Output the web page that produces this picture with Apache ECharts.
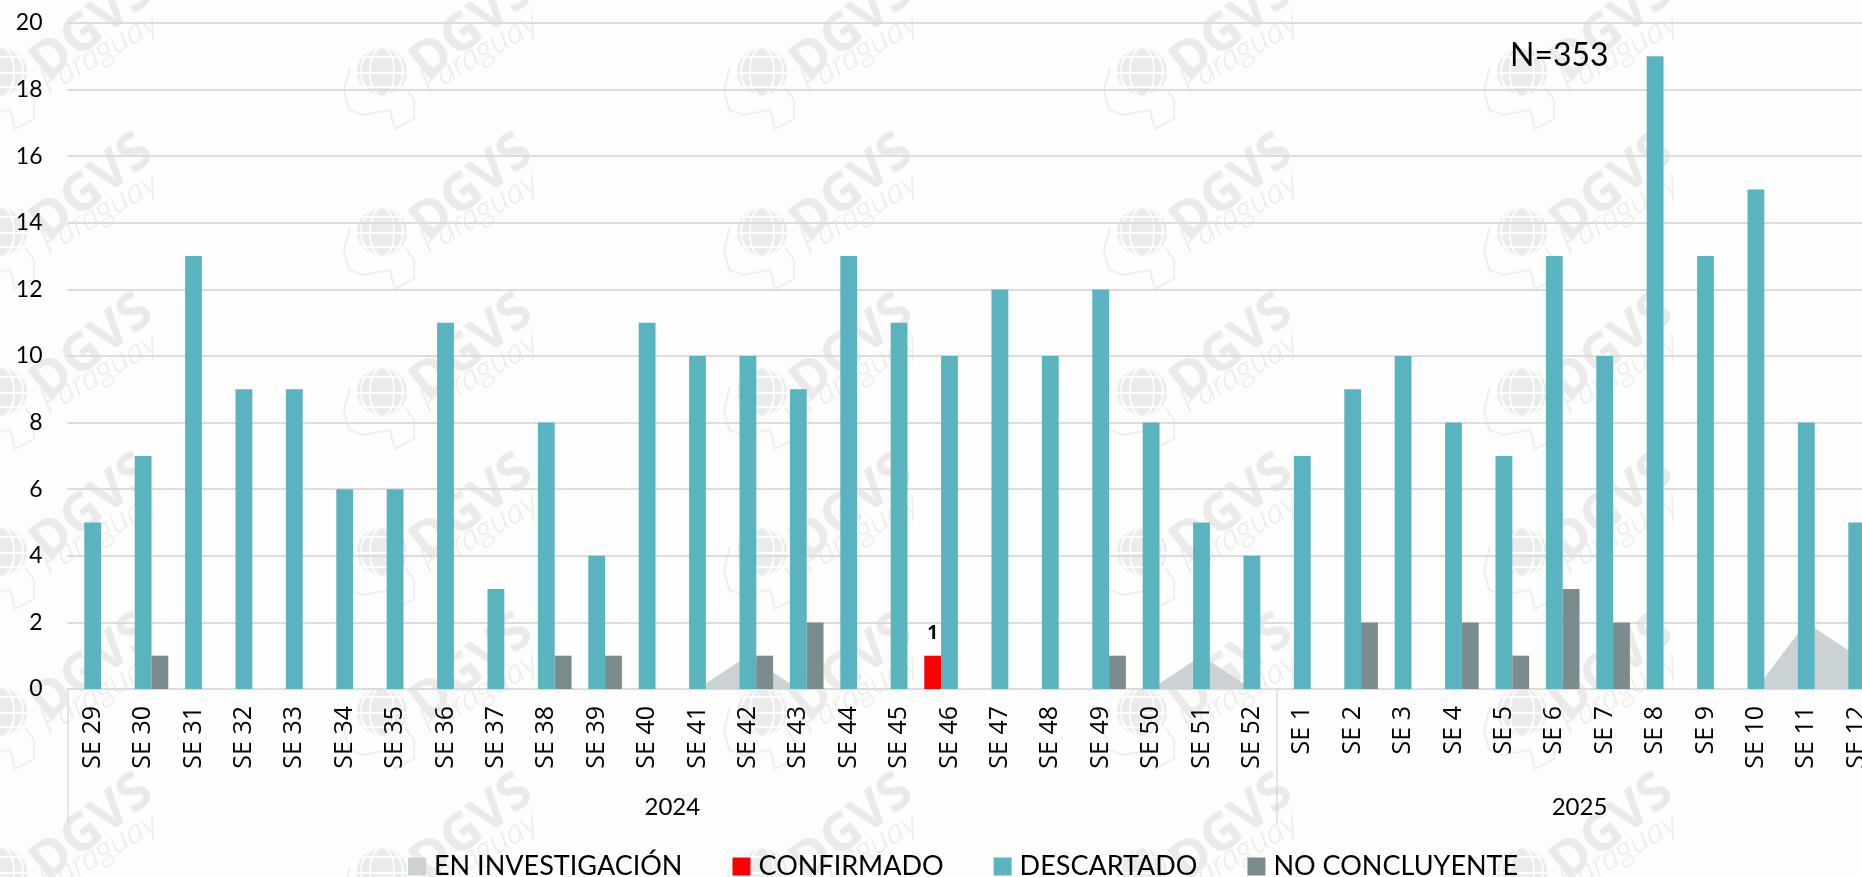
<!DOCTYPE html>
<html>
<head>
<meta charset="utf-8">
<style>html,body{margin:0;padding:0;background:#fdfdfd;overflow:hidden}#c{width:1862px;height:877px}</style>
<script src="https://cdn.jsdelivr.net/npm/echarts@6/dist/echarts.min.js"></script>
</head>
<body>
<div id="c"></div>
<script>
const weeks = ['SE 29','SE 30','SE 31','SE 32','SE 33','SE 34','SE 35','SE 36','SE 37','SE 38','SE 39','SE 40','SE 41','SE 42','SE 43','SE 44','SE 45','SE 46','SE 47','SE 48','SE 49','SE 50','SE 51','SE 52','SE 1','SE 2','SE 3','SE 4','SE 5','SE 6','SE 7','SE 8','SE 9','SE 10','SE 11','SE 12'];
const years = ['2024','2025'];
const weeksPerYear = [24,12];
const enInvestigacion = [0,0,0,0,0,0,0,0,0,0,0,0,0,1,0,0,0,0,0,0,0,0,1,0,0,0,0,0,0,0,0,0,0,0,2,1];
const confirmado = [null,null,null,null,null,null,null,null,null,null,null,null,null,null,null,null,null,1,null,null,null,null,null,null,null,null,null,null,null,null,null,null,null,null,null,null];
const descartado = [5,7,13,9,9,6,6,11,3,8,4,11,10,10,9,13,11,10,12,10,12,8,5,4,7,9,10,8,7,13,10,19,13,15,8,5];
const noConcluyente = [null,1,null,null,null,null,null,null,null,1,1,null,null,1,2,null,null,null,null,null,1,null,null,null,null,2,null,2,1,3,2,null,null,null,null,null];

const FONT = 'Lato';
const LABEL_FONT = 'Open Sans';
const TEXT_COLOR = '#000';
const GRID_COLOR = '#dcdcdc';
const mapOutline = [[-32,-5],[-38,18],[-33,38],[-18,43],[8,38],[13,57],[32,47],[32,28],[23,15]];

function watermark(cx, cy) {
  const z = -10;
  const white = {stroke:'#fdfdfd', fill:'transparent', lineWidth:2};
  return [
    {type:'polyline', silent:true, z, shape:{points:mapOutline.map(p=>[cx+p[0],cy+p[1]])}, style:{stroke:'#eeeeed',fill:'none',lineWidth:2}},
    {type:'circle', silent:true, z, shape:{cx,cy,r:25}, style:{fill:'#eaebeb'}},
    {type:'ellipse', silent:true, z, shape:{cx,cy,rx:12,ry:25}, style:white},
    {type:'ellipse', silent:true, z, shape:{cx,cy,rx:21,ry:25}, style:white},
    {type:'line', silent:true, z, shape:{x1:cx-25,y1:cy-15,x2:cx+25,y2:cy-15}, style:white},
    {type:'line', silent:true, z, shape:{x1:cx-25,y1:cy+15,x2:cx+25,y2:cy+15}, style:white},
    {type:'line', silent:true, z, shape:{x1:cx-25,y1:cy+1,x2:cx+25,y2:cy+1}, style:white},
    {type:'text', silent:true, z, x:cx+90, y:cy-44, rotation:Math.PI*38/180,
      style:{text:'DGVS', fill:'#ebeae8', font:'bold 52px "Open Sans"', align:'center', verticalAlign:'middle'}},
    {type:'text', silent:true, z, x:cx+97, y:cy-20, rotation:Math.PI*30/180,
      style:{text:'Paraguay', fill:'#ebebe9', font:'italic 300 35px "Lato"', align:'center', verticalAlign:'middle'}}
  ];
}
const marks = [];
for (let i = 0; i < 6; i++) for (let j = 0; j < 6; j++) marks.push(...watermark(2 + i*380, 72 + j*160));

const yearEdges = [0], yearCenters = [];
weeksPerYear.forEach((n,i)=>{ yearCenters.push(yearEdges[i]+n/2); yearEdges.push(yearEdges[i]+n); });

const chart = echarts.init(document.getElementById('c'), null, {renderer:'canvas'});
chart.setOption({
  animation:false,
  backgroundColor:'#fdfdfd',
  textStyle:{fontFamily:FONT},
  graphic:{elements:marks},
  title:{text:'N=353', left:1505, top:35, textStyle:{fontFamily:FONT,fontWeight:'normal',fontSize:32,color:TEXT_COLOR}},
  grid:{left:67.5, top:23, width:1814.4, height:666, containLabel:false, outerBoundsMode:'none'},
  legend:{
    left:403, top:848, icon:'rect', itemWidth:18, itemHeight:18, itemGap:50,
    textStyle:{fontFamily:FONT,fontSize:27,color:TEXT_COLOR,padding:[0,0,0,3]},
    data:['EN INVESTIGACIÓN','CONFIRMADO','DESCARTADO','NO CONCLUYENTE']
  },
  xAxis:[{
    type:'category', data:weeks, position:'bottom',
    axisLine:{lineStyle:{color:GRID_COLOR,width:2}},
    axisTick:{show:false},
    axisLabel:{rotate:90, interval:0, fontSize:25, color:TEXT_COLOR, margin:17, fontFamily:LABEL_FONT},
    splitLine:{show:false}
  },{
    type:'value', min:0, max:36, position:'bottom',
    axisLine:{show:false},
    axisTick:{show:true, customValues:yearEdges, length:134, lineStyle:{color:GRID_COLOR,width:1.5}},
    axisLabel:{show:true, customValues:yearCenters, margin:106, fontSize:24, color:TEXT_COLOR, fontFamily:FONT,
      formatter:v=>years[yearCenters.indexOf(v)]},
    splitLine:{show:false}
  }],
  yAxis:{
    type:'value', min:0, max:20, interval:2,
    axisLine:{show:false}, axisTick:{show:false},
    axisLabel:{fontSize:23, color:TEXT_COLOR, margin:25, fontFamily:FONT},
    splitLine:{lineStyle:{color:GRID_COLOR,width:2}}
  },
  series:[
    {name:'EN INVESTIGACIÓN', type:'line', data:enInvestigacion, symbol:'none', z:1,
     itemStyle:{color:'#cbd2d4'}, lineStyle:{width:0}, areaStyle:{color:'#cbd2d4',opacity:1}},
    {name:'CONFIRMADO', type:'bar', data:confirmado, barGap:0, barCategoryGap:0, itemStyle:{color:'#ff0000'},
     label:{show:true, position:'top', distance:13, fontSize:19, fontWeight:'bold', color:TEXT_COLOR, fontFamily:LABEL_FONT}},
    {name:'DESCARTADO', type:'bar', data:descartado, itemStyle:{color:'#5ab4c0'}},
    {name:'NO CONCLUYENTE', type:'bar', data:noConcluyente, itemStyle:{color:'#7b8c8f'}}
  ]
});
</script>
</body>
</html>
